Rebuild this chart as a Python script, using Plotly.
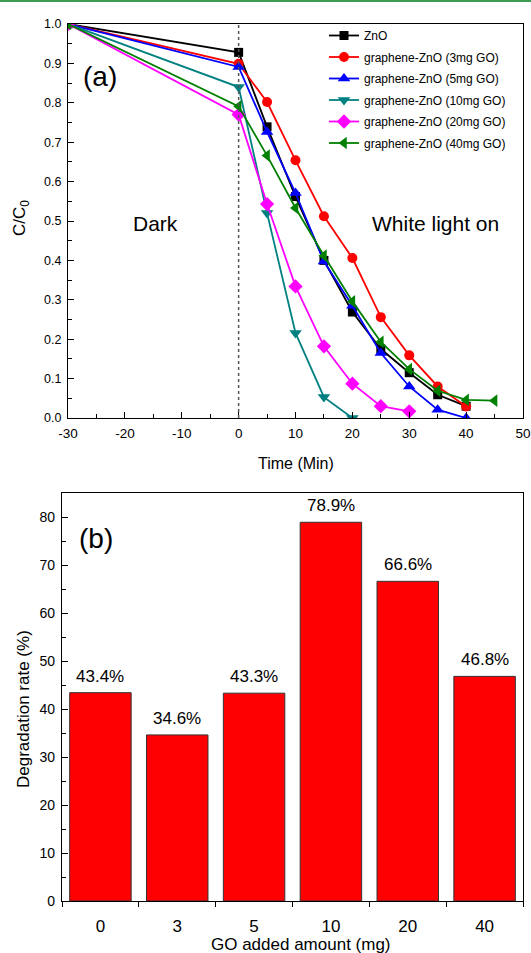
import plotly.graph_objects as go

W, H = 531, 953

# ---------------- data: panel (a) ----------------
t_zno = [-30, 0, 5, 10, 15, 20, 25, 30, 35, 40]
c_zno = [1.0, 0.928, 0.739, 0.562, 0.400, 0.269, 0.175, 0.115, 0.059, 0.030]

t_3mg = [-30, 0, 5, 10, 15, 20, 25, 30, 35, 40]
c_3mg = [1.0, 0.899, 0.802, 0.654, 0.512, 0.406, 0.256, 0.159, 0.080, 0.029]

t_5mg = [-30, 0, 5, 10, 15, 20, 25, 30, 35, 40]
c_5mg = [1.0, 0.891, 0.726, 0.571, 0.397, 0.285, 0.165, 0.080, 0.021, 0.0]

t_10mg = [-30, 0, 5, 10, 15, 20]
c_10mg = [1.0, 0.840, 0.520, 0.216, 0.053, 0.0]

t_20mg = [-30, 0, 5, 10, 15, 20, 25, 30]
c_20mg = [1.0, 0.770, 0.543, 0.334, 0.182, 0.087, 0.030, 0.017]

t_40mg = [-30, 0, 5, 10, 15, 20, 25, 30, 35, 40, 45]
c_40mg = [1.0, 0.791, 0.666, 0.533, 0.412, 0.296, 0.193, 0.124, 0.069, 0.046, 0.044]

series_names = ["ZnO", "graphene-ZnO (3mg GO)", "graphene-ZnO (5mg GO)",
                "graphene-ZnO (10mg GO)", "graphene-ZnO (20mg GO)", "graphene-ZnO (40mg GO)"]

time_tick_vals = [-30, -20, -10, 0, 10, 20, 30, 40, 50]
time_tick_text = ["-30", "-20", "-10", "0", "10", "20", "30", "40", "50"]

# ---------------- data: panel (b) ----------------
go_amount = ["0", "3", "5", "10", "20", "40"]
degradation = [43.4, 34.6, 43.3, 78.9, 66.6, 46.8]

FONT = "Liberation Sans, Arial, sans-serif"

def fx(px):
    return px / W

def fy(py):
    return 1 - py / H

fig = go.Figure()

styles = [
    ("#000000", "square", 9),
    ("#FF0000", "circle", 10),
    ("#0000FF", "triangle-up", 11),
    ("#008080", "triangle-down", 11),
    ("#FF00FF", "diamond", 11),
    ("#008000", "triangle-left", 11),
]
xs = [t_zno, t_3mg, t_5mg, t_10mg, t_20mg, t_40mg]
ys = [c_zno, c_3mg, c_5mg, c_10mg, c_20mg, c_40mg]

for i, (name, x, y, (col, sym, sz)) in enumerate(zip(series_names, xs, ys, styles)):
    fig.add_trace(go.Scatter(
        x=x, y=y, name=name, mode="lines+markers",
        line=dict(color=col, width=1.8),
        marker=dict(color=col, symbol=sym, size=sz),
        legendgroup=f"g{i}",
        xaxis="x", yaxis="y",
    ))

fig.add_trace(go.Bar(
    x=go_amount, y=degradation, width=0.8,
    marker=dict(color="#FF0000", line=dict(color="#333333", width=1)),
    showlegend=False, xaxis="x2", yaxis="y2",
))

annotations = []
for idx, val in enumerate(degradation):
    annotations.append(dict(
        x=idx, y=val, xref="x2", yref="y2", text=f"{val}%",
        showarrow=False, xanchor="center", yanchor="bottom", yshift=5,
        font=dict(family=FONT, size=17, color="#000000"),
    ))

def label(px, py, text, size, angle=0):
    return dict(x=fx(px), y=fy(py), xref="paper", yref="paper", text=text,
                showarrow=False, xanchor="center", yanchor="middle", textangle=angle,
                font=dict(family=FONT, size=size, color="#000"))

annotations += [
    label(100, 76, "(a)", 28),
    label(155, 223, "Dark", 21),
    label(435, 223, "White light on", 21),
    label(96, 538, "(b)", 28),
    label(296, 463, "Time (Min)", 16),
    label(21, 218, "C/C<sub>0</sub>", 17, -90),
    label(23, 709, "Degradation rate (%)", 17, -90),
    label(301, 944, "GO added amount (mg)", 17),
]

axis_common = dict(showgrid=False, zeroline=False, showline=True, linecolor="#000",
                   linewidth=1.2, mirror=True, tickcolor="#000", automargin=False)

fig.update_layout(
    template="none",
    width=W, height=H,
    margin=dict(l=0, r=0, t=0, b=0),
    paper_bgcolor="white", plot_bgcolor="white",
    font=dict(family=FONT, color="#000"),
    xaxis=dict(domain=[fx(68), fx(523)], range=[-30, 50],
               tickmode="array", tickvals=time_tick_vals, ticktext=time_tick_text,
               ticks="inside", ticklen=6, tickwidth=1, ticklabelstandoff=3,
               minor=dict(dtick=5, ticks="inside", ticklen=4, tickcolor="#000"),
               tickfont=dict(family=FONT, size=13.5), anchor="y", **axis_common),
    yaxis=dict(domain=[fy(418), fy(24)], range=[0, 1.0], dtick=0.1, tickformat=".1f",
               ticks="inside", ticklen=6, tickwidth=1, ticklabelstandoff=3,
               minor=dict(dtick=0.05, ticks="inside", ticklen=4, tickcolor="#000"),
               tickfont=dict(family=FONT, size=12.5), anchor="x", **axis_common),
    xaxis2=dict(domain=[fx(62), fx(523)], type="category", range=[-0.5, 5.5],
                ticks="outside", tickson="boundaries", ticklen=5, tickwidth=1,
                ticklabelstandoff=9,
                tickfont=dict(family=FONT, size=17), anchor="y2", **axis_common),
    yaxis2=dict(domain=[fy(901), fy(493)], range=[0, 85], dtick=10, ticks="inside",
                ticklen=6, tickwidth=1, ticklabelstandoff=3,
                minor=dict(dtick=5, ticks="inside", ticklen=4, tickcolor="#000"),
                tickfont=dict(family=FONT, size=14), anchor="x2", **axis_common),
    legend=dict(x=fx(324), y=fy(21), xanchor="left", yanchor="top",
                bgcolor="rgba(0,0,0,0)", font=dict(family=FONT, size=12, color="#000"),
                itemwidth=30, tracegroupgap=2.5),
    annotations=annotations,
    shapes=[
        dict(type="line", xref="x", yref="y domain", x0=0, x1=0, y0=0, y1=1,
             line=dict(color="#555555", width=1.5, dash="dot")),
        dict(type="line", xref="paper", yref="paper", x0=0, x1=1, y0=fy(1), y1=fy(1),
             line=dict(color="#3c9c54", width=2)),
    ],
    bargap=0.2,
)

fig.write_html("out.html", config={"displayModeBar": False},
               post_script="document.body.style.margin='0';document.body.style.overflow='hidden';")
